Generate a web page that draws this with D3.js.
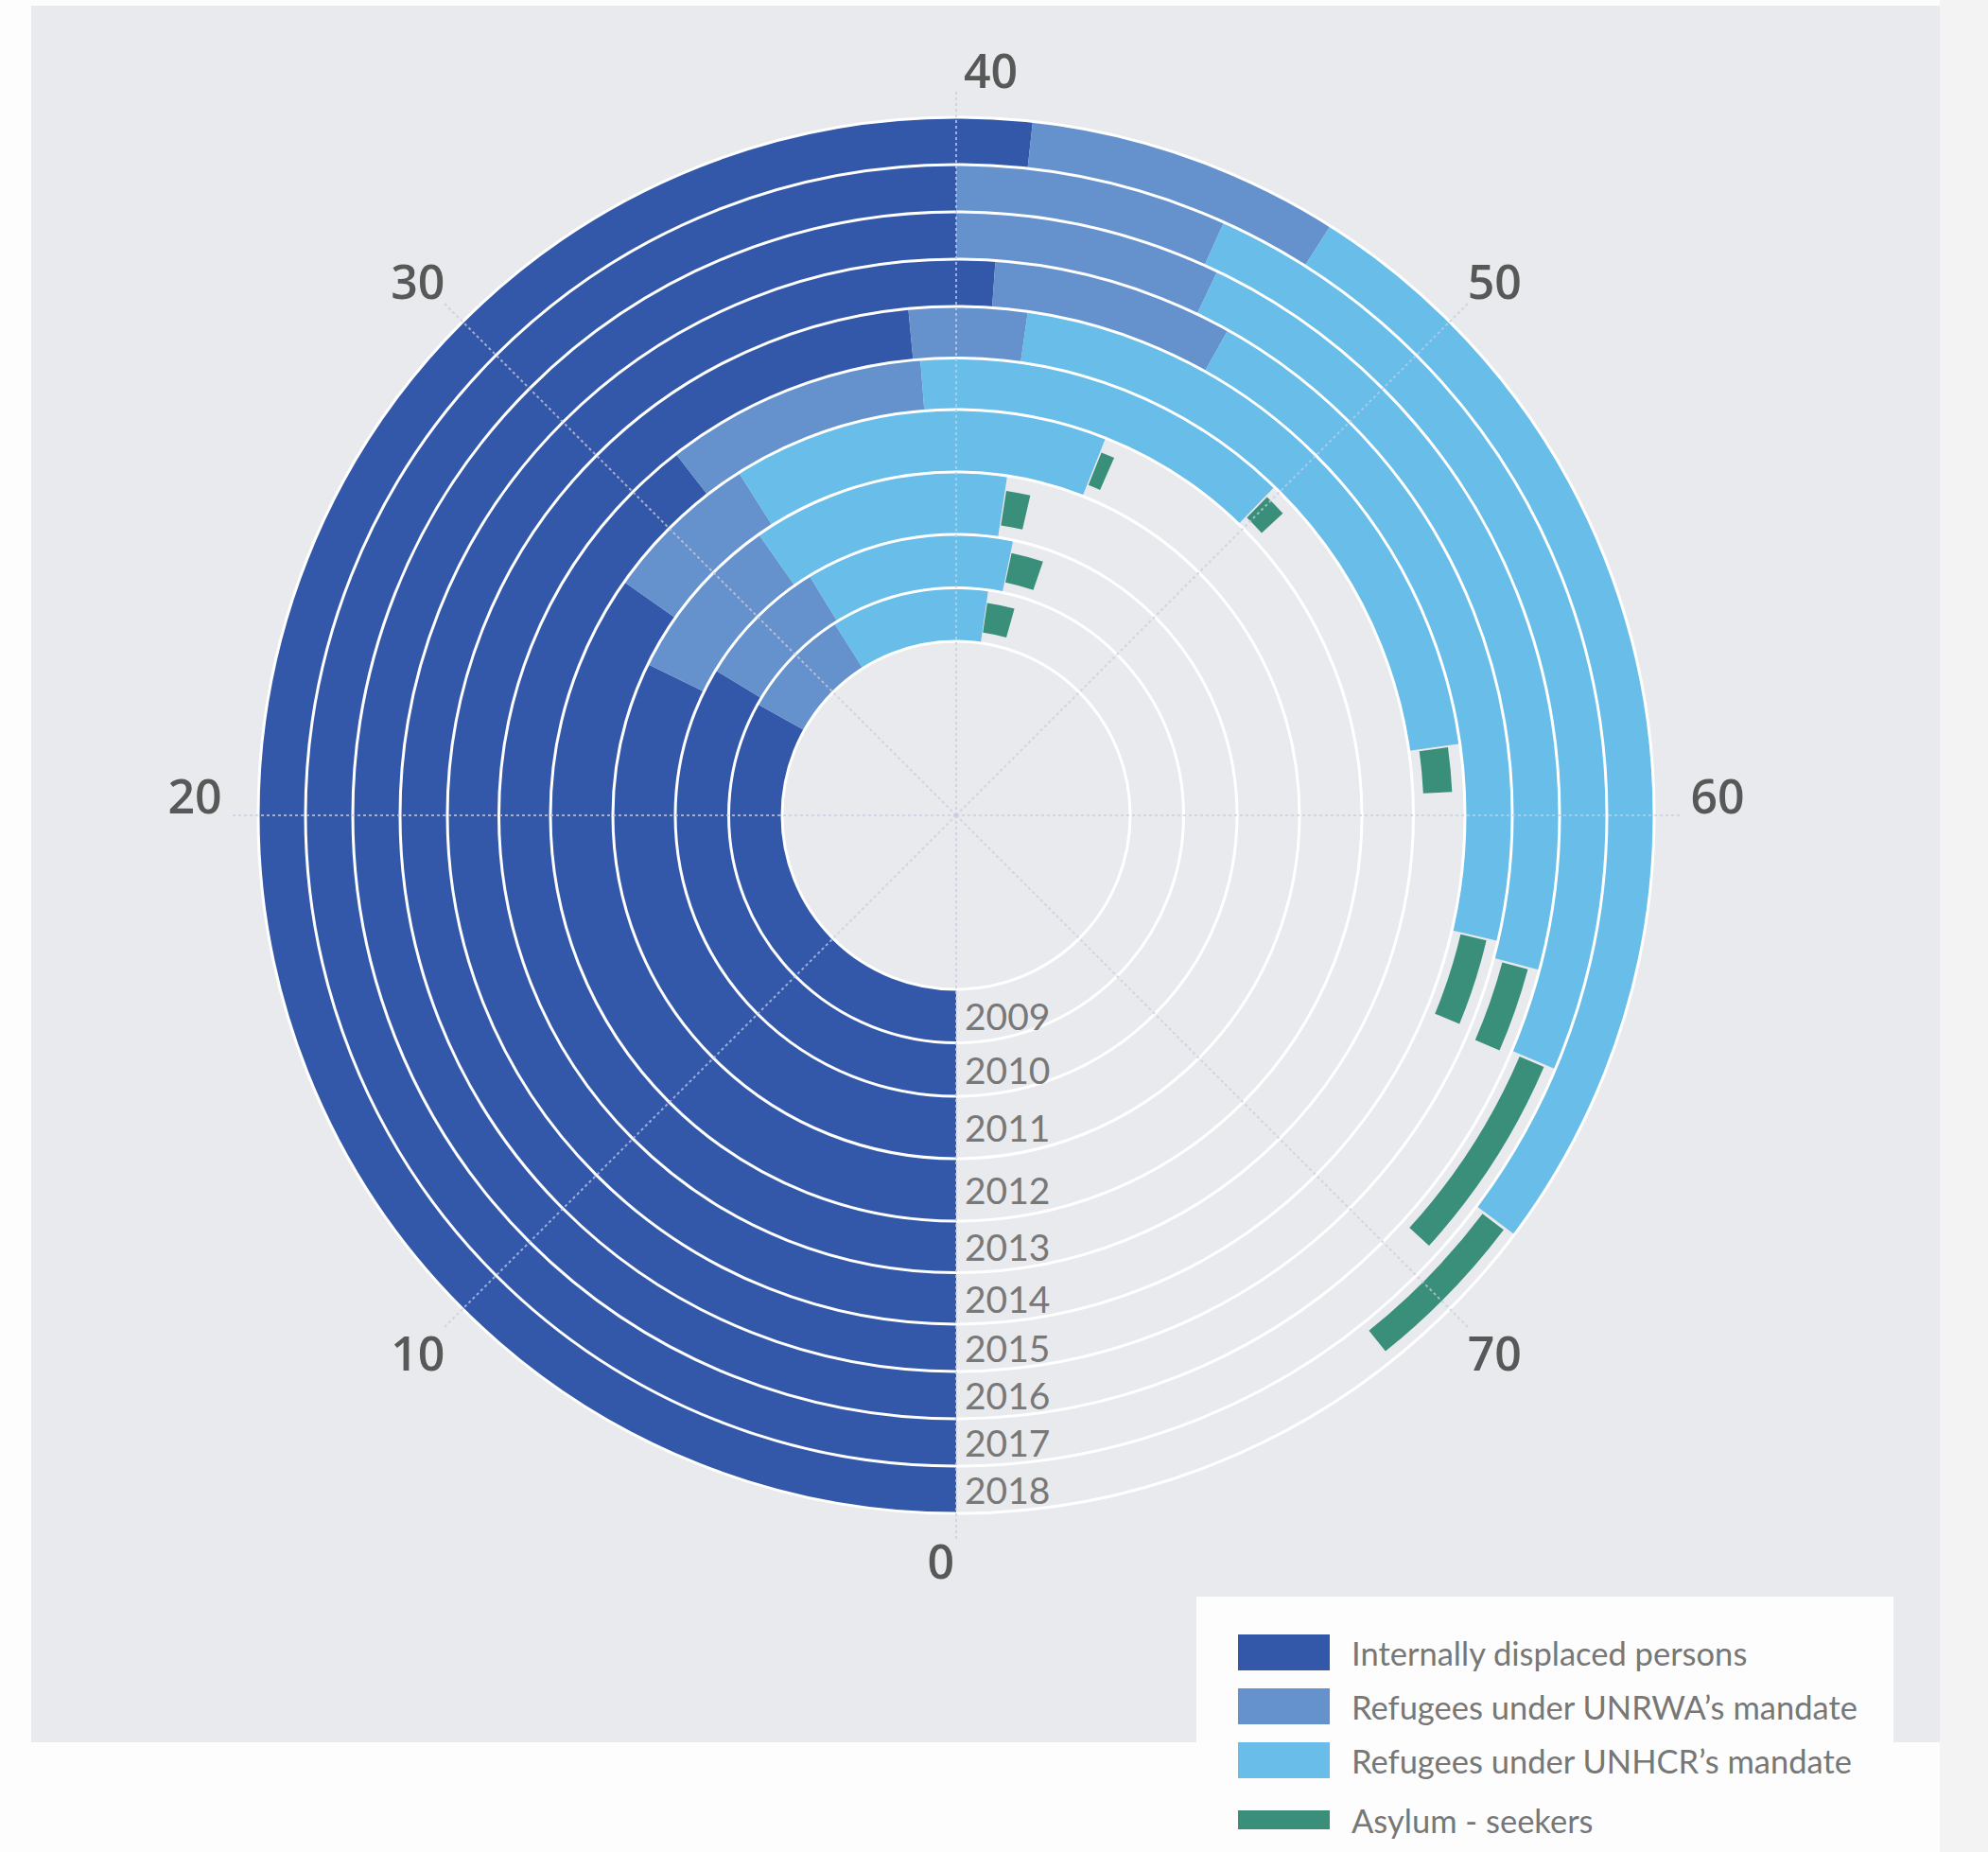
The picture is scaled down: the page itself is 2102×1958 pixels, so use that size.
<!DOCTYPE html>
<html>
<head>
<meta charset="utf-8">
<title>Forcibly displaced people 2009-2018</title>
<script src="https://cdn.jsdelivr.net/npm/d3@7"></script>
<style>
  body { margin: 0; background: #fdfdfd; }
  svg { display: block; }
</style>
</head>
<body>
<div id="chart"></div>
<script>
// Millions of people, one ring per year (inner = 2009)
var years   = ["2009", "2010", "2011", "2012", "2013", "2014", "2015", "2016", "2017", "2018"];
var idp     = [26.5, 26.9, 25.8, 27.8, 31.6, 38.8, 40.9, 40.0, 40.0, 41.4];
var unrwa   = [6.3, 6.1, 6.4, 5.0, 7.4, 3.0, 5.6, 5.7, 5.4, 5.8];
var unhcr   = [9.0, 9.6, 9.7, 12.0, 10.8, 16.4, 16.4, 17.6, 19.7, 21.0];
var asylum  = [1.7, 1.6, 1.0, 0.5, 0.7, 1.2, 2.1, 1.9, 4.3, 3.2];

var seriesNames  = ["Internally displaced persons", "Refugees under UNRWA\u2019s mandate",
                    "Refugees under UNHCR\u2019s mandate", "Asylum - seekers"];
var seriesColors = ["#3358a9", "#6592cd", "#68bde9", "#3a8f7a"];
var tickValues   = [0, 10, 20, 30, 40, 50, 60, 70];

var W = 2102, H = 1958;
var cx = 1011, cy = 862;

var svg = d3.select("#chart").append("svg")
    .attr("width", W)
    .attr("height", H);

// grey panel behind the chart + the pale strip at the right
svg.append("rect").attr("x", 2051).attr("y", 0).attr("width", 51).attr("height", H).attr("fill", "#f3f3f3");
svg.append("rect").attr("x", 33).attr("y", 6).attr("width", 2018).attr("height", 1836).attr("fill", "#e9eaed");

// 0 sits at the bottom and the scale runs clockwise, 80 to a full turn
var angle = d3.scaleLinear().domain([0, 80]).range([Math.PI, 3 * Math.PI]);

// ring edges: the inner rings are a little wider than the outer ones
var ringEdge = d3.scaleLinear()
    .domain([0, 2, 4, 6, 10])
    .range([184, 297, 429, 538, 738]);

var rows = years.map(function(y, i) {
  var vals = [idp[i], unrwa[i], unhcr[i], asylum[i]];
  var start = 0;
  var segs = vals.map(function(v, k) {
    var s = { year: y, key: k, start: start, end: start + v };
    start += v;
    return s;
  });
  return { year: y, i: i, r0: ringEdge(i), r1: ringEdge(i + 1), segs: segs };
});

var g = svg.append("g").attr("transform", "translate(" + cx + "," + cy + ")");
var arc = d3.arc();

// stacked bars
rows.forEach(function(row) {
  var w = row.r1 - row.r0;
  g.selectAll(null)
      .data(row.segs)
      .enter()
      .append("path")
      .attr("d", function(d) {
        var thin = d.key === 3;  // asylum-seekers drawn as a thinner bar
        return arc({
          innerRadius: thin ? row.r0 + w * 0.2 : row.r0,
          outerRadius: thin ? row.r1 - w * 0.24 : row.r1,
          startAngle: angle(d.start + (thin ? 0.05 : 0)),
          endAngle: angle(d.end)
        });
      })
      .attr("fill", function(d) { return seriesColors[d.key]; });
});

// white ring separators
g.selectAll(".ring")
    .data(d3.range(0, years.length + 1))
    .enter()
    .append("circle")
    .attr("class", "ring")
    .attr("r", function(d) { return ringEdge(d); })
    .attr("fill", "none")
    .attr("stroke", "#ffffff")
    .attr("stroke-width", 3);

// dashed radial grid
g.selectAll(".spoke")
    .data(tickValues)
    .enter()
    .append("line")
    .attr("class", "spoke")
    .attr("x1", 0).attr("y1", 0)
    .attr("x2", function(d) { return 765 * Math.sin(angle(d)); })
    .attr("y2", function(d) { return -765 * Math.cos(angle(d)); })
    .attr("stroke", "#c9cde0")
    .attr("stroke-width", 2)
    .attr("stroke-dasharray", "3 3")
    .attr("opacity", 0.75);

// scale numbers round the outside; the ones on the axes sit beside their line
g.selectAll(".tick")
    .data(tickValues)
    .enter()
    .append("text")
    .attr("class", "tick")
    .attr("x", function(d) {
      var s = Math.sin(angle(d)), c = Math.cos(angle(d));
      if (Math.abs(s) < 0.01) return c > 0 ? 8 : -2;
      return 805 * s;
    })
    .attr("y", function(d) {
      var s = Math.sin(angle(d)), c = Math.cos(angle(d));
      if (Math.abs(s) < 0.01) return -788 * c;
      var y = -798 * c - 21 * s * s;
      if (Math.abs(s) < 0.99) y += (c < 0 ? 14 : 10);
      return y;
    })
    .attr("text-anchor", function(d) {
      var s = Math.sin(angle(d)), c = Math.cos(angle(d));
      if (Math.abs(s) < 0.01) return c > 0 ? "start" : "end";
      return "middle";
    })
    .attr("dominant-baseline", "central")
    .attr("font-family", "'Open Sans', sans-serif")
    .attr("font-weight", 600)
    .attr("font-size", 50)
    .attr("fill", "#585858")
    .text(function(d) { return d; });

// year labels down the 0 line
g.selectAll(".year")
    .data(rows)
    .enter()
    .append("text")
    .attr("class", "year")
    .attr("x", 9)
    .attr("y", function(d) { return (d.r0 + d.r1) / 2; })
    .attr("dominant-baseline", "central")
    .attr("font-family", "Lato, sans-serif")
    .attr("font-size", 39)
    .attr("fill", "#787878")
    .text(function(d) { return d.year; });

// legend
var legend = svg.append("g");
legend.append("rect")
    .attr("x", 1265).attr("y", 1688)
    .attr("width", 737).attr("height", 280)
    .attr("fill", "#fdfdfd");

var legendY = [1747, 1804, 1861, 1924];
var item = legend.selectAll(".item")
    .data(seriesNames)
    .enter()
    .append("g")
    .attr("class", "item")
    .attr("transform", function(d, i) { return "translate(1309," + legendY[i] + ")"; });

item.append("rect")
    .attr("x", 0)
    .attr("y", function(d, i) { return i === 3 ? -10 : -19; })
    .attr("width", 97)
    .attr("height", function(d, i) { return i === 3 ? 20 : 38; })
    .attr("fill", function(d, i) { return seriesColors[i]; });

item.append("text")
    .attr("x", 120)
    .attr("y", 0)
    .attr("dominant-baseline", "central")
    .attr("font-family", "Lato, sans-serif")
    .attr("font-size", 34.5)
    .attr("fill", "#777777")
    .text(function(d) { return d; });
</script>
</body>
</html>
